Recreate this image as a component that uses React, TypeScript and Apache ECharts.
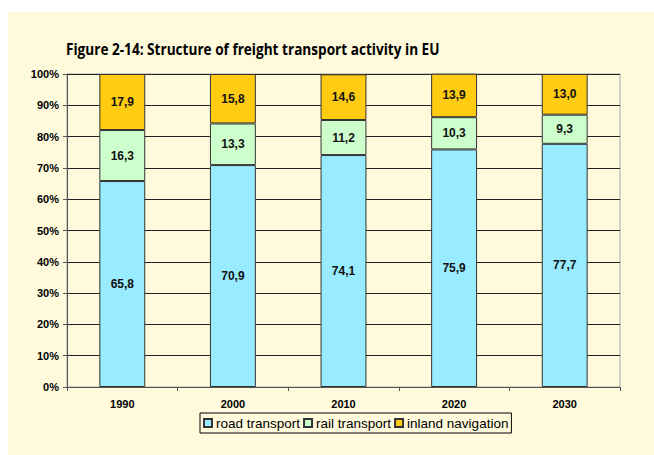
import React, { useEffect, useRef } from "react";
import * as echarts from "echarts";

const categories = ["1990", "2000", "2010", "2020", "2030"];
const road = [65.8, 70.9, 74.1, 75.9, 77.7];
const rail = [16.3, 13.3, 11.2, 10.3, 9.3];
const inland = [17.9, 15.8, 14.6, 13.9, 13.0];
const seriesNames = ["road transport", "rail transport", "inland navigation"];
const colors = ["#99EBFF", "#CCFFCC", "#FFCC11"];
const titleText = "Figure 2-14: Structure of freight transport activity in EU";

const FONT = "Arial";

export default function App() {
  const ref = useRef<HTMLDivElement>(null);
  useEffect(() => {
    document.body.style.margin = "0";
    const chart = echarts.init(ref.current!, undefined, { renderer: "svg" });
    const titleFont = "bold 16.5px 'Open Sans'";
    let titleW = 440;
    try {
      const ctx = document.createElement("canvas").getContext("2d")!;
      ctx.font = titleFont;
      titleW = ctx.measureText(titleText).width || 440;
    } catch (e) {}
    const sx = 374 / titleW;
    const fmt = (p: any) => Number(p.value).toFixed(1).replace(".", ",");
    const mk = (name: string, data: number[], color: string) => ({
      name,
      type: "bar",
      stack: "total",
      data,
      barWidth: "41.5%",
      itemStyle: { color, borderColor: "#333", borderWidth: 1 },
      label: {
        show: true,
        position: "inside",
        formatter: fmt,
        color: "#111",
        fontWeight: "bold",
        fontSize: 12,
        fontFamily: FONT,
      },
    });
    chart.setOption({
      animation: false,
      backgroundColor: "#FFFFFF",
      graphic: [
        {
          type: "rect",
          z: -10,
          shape: { x: 8, y: 12, width: 660, height: 460 },
          style: { fill: "#FFFADB" },
        },
        {
          type: "text",
          x: 66,
          y: 48.5,
          scaleX: sx,
          style: {
            text: titleText,
            font: titleFont,
            fill: "#000",
            verticalAlign: "middle",
            align: "left",
          },
        },
      ],
      grid: { left: 67, right: 34, top: 74, bottom: 68, containLabel: false, show: true, borderColor: "#A0A8A8", borderWidth: 1 },
      legend: {
        left: 200,
        top: 413,
        itemWidth: 8,
        itemHeight: 8,
        itemGap: 3,
        padding: [3, 3, 3, 3],
        borderColor: "#000",
        borderWidth: 1,
        icon: "rect",
        data: seriesNames,
        textStyle: { fontSize: 13.5, color: "#000", fontFamily: FONT, padding: [0, 0, 0, -1] },
      },
      xAxis: {
        type: "category",
        data: categories,
        axisLine: { lineStyle: { color: "#555", width: 1 } },
        axisTick: { show: true, inside: false, length: 4, lineStyle: { color: "#555" } },
        axisLabel: { fontWeight: "bold", fontSize: 11, color: "#000", margin: 11, fontFamily: FONT },
      },
      yAxis: {
        type: "value",
        min: 0,
        max: 100,
        interval: 10,
        axisLine: { show: true, lineStyle: { color: "#555", width: 1 } },
        axisTick: { show: true, length: 4, lineStyle: { color: "#555" } },
        splitLine: { lineStyle: { color: "#222", width: 1 } },
        axisLabel: { formatter: "{value}%", fontWeight: "bold", fontSize: 11, color: "#000", margin: 8, fontFamily: FONT },
      },
      series: [mk(seriesNames[0], road, colors[0]), mk(seriesNames[1], rail, colors[1]), mk(seriesNames[2], inland, colors[2])],
    });
    return () => chart.dispose();
  }, []);
  return <div ref={ref} style={{ width: 654, height: 455 }} />;
}
